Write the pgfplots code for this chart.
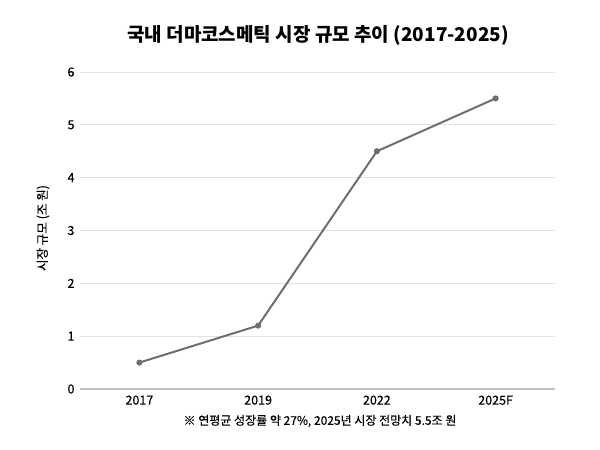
\documentclass[border=0pt]{standalone}
\usepackage{pgfplots}
\pgfplotsset{compat=1.18}
\usepackage{fontspec}
\setmainfont{Noto Sans CJK KR}[FakeBold=0.4]
\newfontfamily\titlefont{Noto Sans CJK KR}
\definecolor{linegray}{HTML}{6E6E6E}
\definecolor{gridgray}{HTML}{E2E2E2}
\begin{document}
\begin{tikzpicture}[x=1pt,y=1pt]
\path[use as bounding box] (0,0) rectangle (600,450);
\begin{axis}[
  at={(80pt,61pt)}, anchor=south west,
  scale only axis, width=475pt, height=317pt,
  xmin=-0.5, xmax=3.5, ymin=0, ymax=6,
  xtick={0,1,2,3}, xticklabels={2017,2019,2022,2025F},
  ytick={0,1,2,3,4,5,6},
  axis line style={draw=none},
  major tick length=0pt,
  ymajorgrids, grid style={gridgray, line width=1pt},
  tick label style={font=\fontsize{12.5}{14}\selectfont},
  /pgf/number format/assume math mode=true,
  yticklabel style={xshift=-2pt},
  xticklabel style={yshift=-3pt},
  clip=false,
]
\draw[color=black!25, line width=1.2pt] (axis cs:-0.5,0) -- (axis cs:3.5,0);
\addplot[color=linegray, line width=2pt, mark=*, mark size=2pt, mark options={fill=linegray, draw=linegray}]
  coordinates {(0,0.5) (1,1.2) (2,4.5) (3,5.5)};
\end{axis}
\node[font=\titlefont\fontsize{19}{22}\selectfont\bfseries] at (318,415) {국내 더마코스메틱 시장 규모 추이 (2017-2025)};
\node[font=\fontsize{12.5}{14}\selectfont, rotate=90] at (43,222) {시장 규모 (조 원)};
\node[font=\fontsize{12}{14}\selectfont] at (320,29) {※ 연평균 성장률 약 27\%, 2025년 시장 전망치 5.5조 원};
\end{tikzpicture}
\end{document}
